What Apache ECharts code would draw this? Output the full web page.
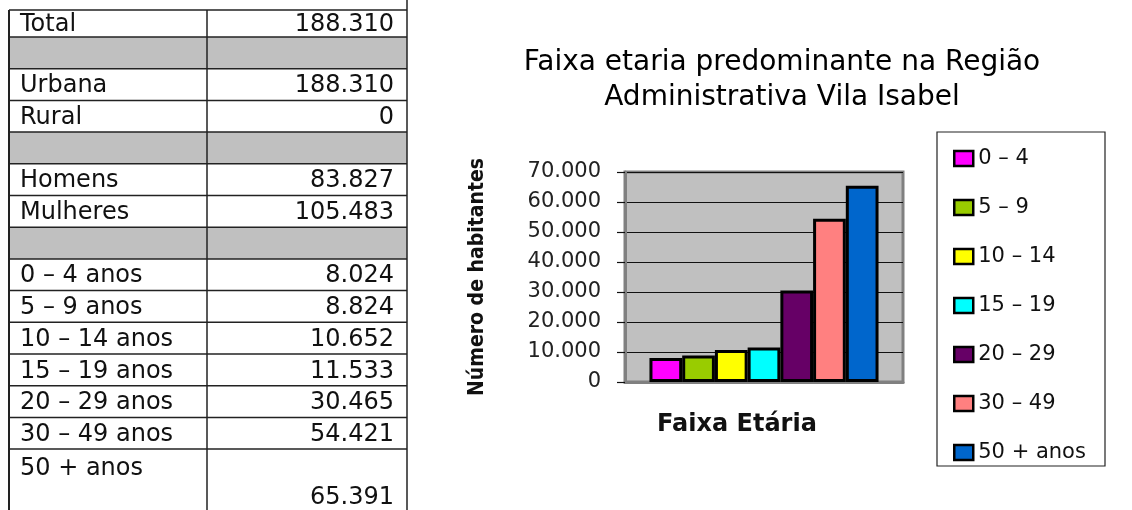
<!DOCTYPE html>
<html>
<head>
<meta charset="utf-8">
<script src="https://cdn.jsdelivr.net/npm/echarts@6/dist/echarts.min.js"></script>
<style>
  html, body { margin: 0; padding: 0; background: #fff; }
  #main { width: 1132px; height: 510px; }
</style>
</head>
<body>
<div id="main"></div>
<script>
// faixas etárias (gráfico + tabela)
const ageGroups = ['0 – 4', '5 – 9', '10 – 14', '15 – 19', '20 – 29', '30 – 49', '50 + anos'];
const ageValues = [8024, 8824, 10652, 11533, 30465, 54421, 65391];
const barColors = ['#ff00ff', '#99cc00', '#ffff00', '#00ffff', '#660066', '#ff8080', '#0066cc'];

// tabela da esquerda
const tableLabels = ['Total', '', 'Urbana', 'Rural', '', 'Homens', 'Mulheres', '',
  '0 – 4 anos', '5 – 9 anos', '10 – 14 anos', '15 – 19 anos', '20 – 29 anos', '30 – 49 anos', '50 + anos'];
const tableValues = [188310, null, 188310, 0, null, 83827, 105483, null].concat(ageValues);

const yTickStep = 10000;
const yMax = 70000;

function fmt(n) {
  return String(n).replace(/\B(?=(\d{3})+(?!\d))/g, '.');
}

const chart = echarts.init(document.getElementById('main'));

// monta a tabela com graphic
const FONT = 'DejaVu Sans';
let _g = [];
const tLeft = 9, tMid = 207, tRight = 407;
let rowTop = [10];
for (let i = 1; i <= tableLabels.length; i++) {
  rowTop.push(37 + (i - 1) * 31.7);
}
rowTop[tableLabels.length] = 540;
tableLabels.forEach((lab, i) => {
  const y0 = rowTop[i], y1 = rowTop[i + 1];
  if (tableValues[i] === null) {
    _g.push({ type: 'rect', shape: { x: tLeft, y: y0, width: tRight - tLeft, height: y1 - y0 },
      style: { fill: '#c0c0c0' }, z: 1 });
  }
  _g.push({ type: 'line', shape: { x1: tLeft, y1: y0, x2: tRight, y2: y0 },
    style: { stroke: '#222', lineWidth: 1.5 }, z: 2 });
  const last = i === tableLabels.length - 1;
  const cy = last ? y0 + 20 : (y0 + y1) / 2 + 1.5;
  if (lab) {
    _g.push({ type: 'text', x: 20, y: cy, z: 3,
      style: { text: lab, font: '24px "' + FONT + '"', fill: '#111', verticalAlign: 'middle' } });
  }
  if (tableValues[i] !== null) {
    _g.push({ type: 'text', x: 394, y: last ? y0 + 49 : cy, z: 3,
      style: { text: fmt(tableValues[i]), font: '24px "' + FONT + '"', fill: '#111',
        align: 'right', verticalAlign: 'middle' } });
  }
});
_g.push({ type: 'line', shape: { x1: tLeft, y1: 10, x2: tLeft, y2: 510 }, style: { stroke: '#222', lineWidth: 2 }, z: 2 });
_g.push({ type: 'line', shape: { x1: tMid, y1: 10, x2: tMid, y2: 510 }, style: { stroke: '#222', lineWidth: 1.5 }, z: 2 });
_g.push({ type: 'line', shape: { x1: tRight, y1: 0, x2: tRight, y2: 510 }, style: { stroke: '#222', lineWidth: 1.5 }, z: 2 });

// título
_g.push({ type: 'text', x: 782, y: 63, style: { text: 'Faixa etaria predominante na Região',
  font: '28px "' + FONT + '"', fill: '#000', align: 'center', verticalAlign: 'middle' } });
_g.push({ type: 'text', x: 782, y: 98, style: { text: 'Administrativa Vila Isabel',
  font: '28px "' + FONT + '"', fill: '#000', align: 'center', verticalAlign: 'middle' } });

// caixa da legenda
_g.push({ type: 'rect', shape: { x: 937, y: 132, width: 168, height: 334 },
  style: { fill: '#fff', stroke: '#222', lineWidth: 1.2 }, z: 0 });

const series = ageGroups.map((name, i) => ({
  name: name,
  type: 'bar',
  data: [ageValues[i]],
  barGap: '0%',
  barCategoryGap: '17.6%',
  itemStyle: { color: barColors[i], borderColor: '#000', borderWidth: 3 }
}));

const option = {
  animation: false,
  graphic: _g,
  grid: {
    left: 625, top: 172, width: 278, height: 210,
    show: true, backgroundColor: '#c0c0c0', borderColor: '#808080', borderWidth: 3
  },
  legend: {
    orient: 'vertical',
    left: 948, top: 143,
    icon: 'rect',
    itemWidth: 19, itemHeight: 15, itemGap: 28,
    data: ageGroups,
    itemStyle: { borderColor: '#000', borderWidth: 2.5 },
    textStyle: { fontFamily: FONT, fontSize: 21, lineHeight: 20, color: '#111' }
  },
  xAxis: {
    type: 'category',
    data: ['Faixa Etária'],
    name: 'Faixa Etária',
    nameLocation: 'middle',
    nameGap: 31,
    nameTextStyle: { fontFamily: FONT, fontSize: 24, fontWeight: 'bold', color: '#111', padding: [0, 54, 0, 0] },
    axisLine: { lineStyle: { color: '#808080', width: 3 } },
    axisTick: { show: false },
    axisLabel: { show: false }
  },
  yAxis: {
    type: 'value',
    min: 0, max: yMax, interval: yTickStep,
    name: 'Número de habitantes',
    nameLocation: 'middle',
    nameGap: 137,
    nameTextStyle: { fontFamily: 'DejaVu Sans Condensed', fontSize: 21, fontWeight: 'bold', color: '#111' },
    axisLine: { show: true, lineStyle: { color: '#808080', width: 3 } },
    axisTick: { show: true, length: 8, lineStyle: { color: '#111', width: 1.2 } },
    axisLabel: { fontFamily: FONT, fontSize: 21, color: '#222', margin: 24, formatter: (v) => fmt(v) },
    splitLine: { lineStyle: { color: '#111', width: 1.2 } }
  },
  series: series
};

chart.setOption(option);
</script>
</body>
</html>
